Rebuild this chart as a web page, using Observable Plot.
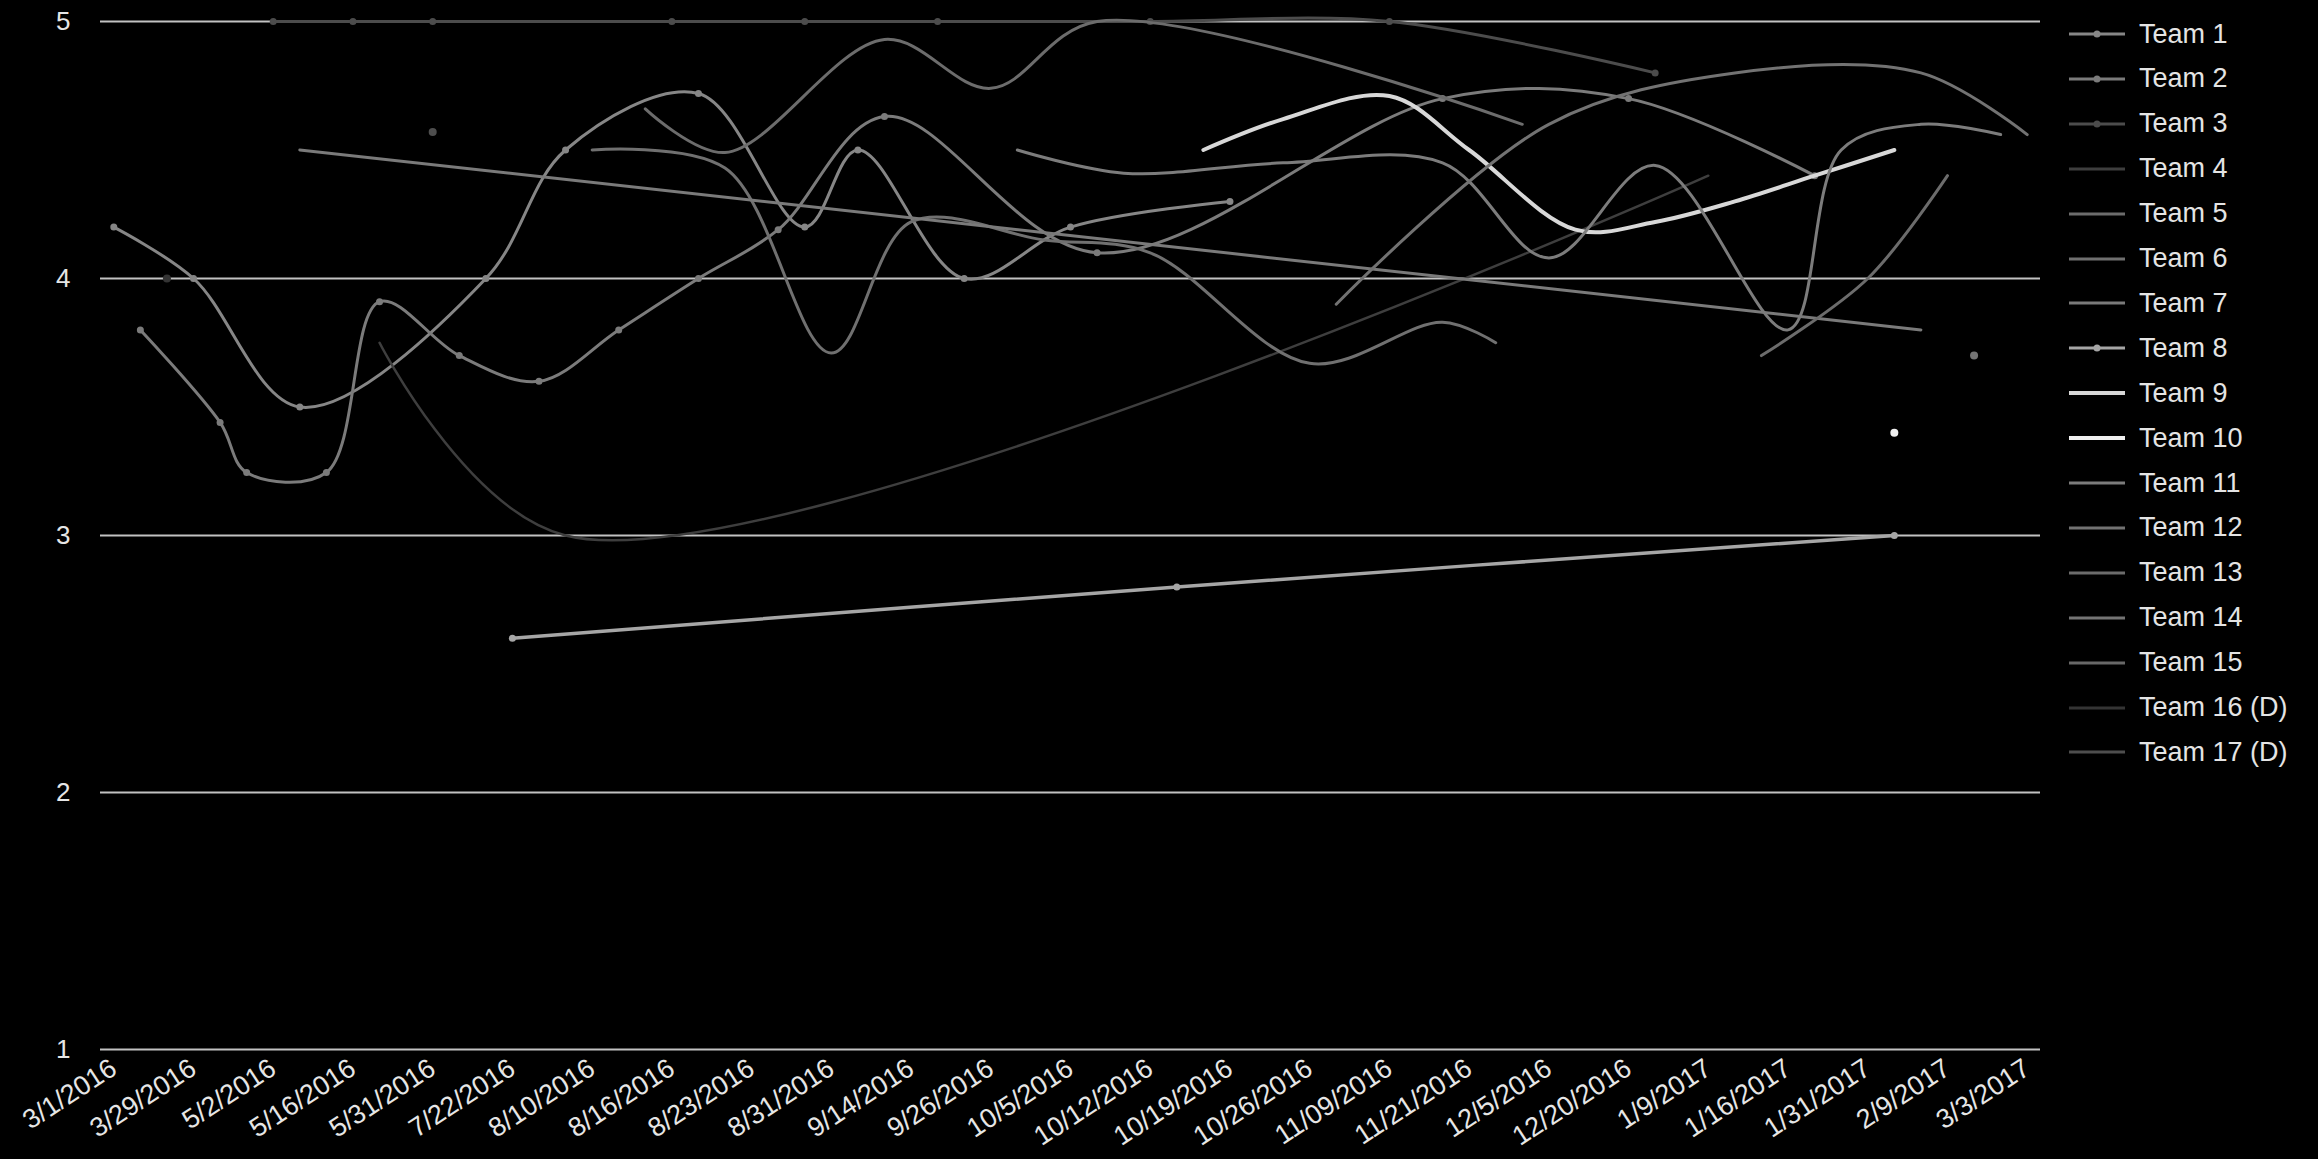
<!DOCTYPE html>
<html><head><meta charset="utf-8">
<script src="https://cdn.jsdelivr.net/npm/d3@7"></script>
<script src="https://cdn.jsdelivr.net/npm/@observablehq/plot@0.6"></script>
<style>
html,body{margin:0;padding:0;background:#000;}
body{width:2318px;height:1159px;overflow:hidden;position:relative;font-family:"Liberation Sans",Arial,sans-serif;}
#chart{position:absolute;left:0;top:0;}
#legend{position:absolute;left:2069px;top:0;width:249px;height:800px;}
.item{position:absolute;left:0;height:30px;display:flex;align-items:center;color:#e4e4e4;font-size:27px;white-space:nowrap;}
.item svg{margin-right:14px;}
</style></head><body>
<div id="chart"></div><div id="legend"></div>
<script>
// x-axis labels (every third category of 73 is labelled)
const dateLabels = ["3/1/2016","3/29/2016","5/2/2016","5/16/2016","5/31/2016","7/22/2016","8/10/2016","8/16/2016","8/23/2016","8/31/2016","9/14/2016","9/26/2016","10/5/2016","10/12/2016","10/19/2016","10/26/2016","11/09/2016","11/21/2016","12/5/2016","12/20/2016","1/9/2017","1/16/2017","1/31/2017","2/9/2017","3/3/2017"];
const categoryCount = 73;
const yTicks = [1, 2, 3, 4, 5];

const teamNames = ["Team 1","Team 2","Team 3","Team 4","Team 5","Team 6","Team 7","Team 8","Team 9","Team 10","Team 11","Team 12","Team 13","Team 14","Team 15","Team 16 (D)","Team 17 (D)"];
const teamColors = ["#868686","#7b7b7b","#4c4c4c","#3e3e3e","#6c6c6c","#707070","#7a7a7a","#a6a6a6","#d8d8d8","#f0f0f0","#7c7c7c","#727272","#6c6c6c","#747474","#686868","#343434","#4e4e4e"];
const teamMarkers = [true,true,true,false,false,false,false,true,false,false,false,false,false,false,false,false,false];
const teamWidths = [3,3,3,2.5,3,3,3,3.5,4,4,3,3,3,3,3,3,3];

// series values: [category index, rating]
const team1 = [[0,4.2],[3,4.0],[7,3.5],[14,4.0],[17,4.5],[22,4.72],[26,4.2],[28,4.5],[32,4.0],[36,4.2],[42,4.3]];
const team2 = [[1,3.8],[4,3.44],[5,3.245],[8,3.245],[10,3.91],[13,3.7],[16,3.6],[19,3.8],[22,4.0],[25,4.19],[29,4.63],[37,4.1],[50,4.7],[57,4.7],[64,4.4]];
const team3 = [[6,5],[9,5],[12,5],[21,5],[26,5],[31,5],[39,5],[48,5],[58,4.8]];
const team4 = [[10,3.75],[17,3.0],[60,4.4]];
const team5 = [[20,4.66],[23,4.49],[29,4.93],[33,4.74],[37,5.0],[53,4.6]];
const team6 = [[18,4.5],[23,4.43],[27,3.71],[30,4.22],[35,4.15],[39,4.1],[45,3.67],[50,3.83],[52,3.75]];
const team7 = [[7,4.5],[68,3.8]];
const team8 = [[15,2.6],[40,2.8],[67,3.0]];
const team9 = [[41,4.5],[44,4.62],[48,4.71],[51,4.5],[55,4.19],[58,4.22],[61,4.3],[64,4.4],[67,4.5]];
const team10 = [[67,3.4]];
const team11 = [[34,4.5],[38,4.41],[44,4.45],[50,4.45],[54,4.08],[58,4.44],[63,3.8],[65,4.5],[68,4.6],[71,4.56]];
const team12 = [[46,3.9],[54,4.6],[61,4.8],[68,4.8],[72,4.56]];
const team13 = [[62,3.7],[66,4.0],[69,4.4]];
const team14 = [[70,3.7]];
const team15 = [];
const team16 = [[2,4.0]];
const team17 = [[12,4.57]];
const teamValues = [team1,team2,team3,team4,team5,team6,team7,team8,team9,team10,team11,team12,team13,team14,team15,team16,team17];

const series = teamValues.map((pts, k) => pts.map(([i, v]) => ({team: teamNames[k], i, v})));

const marks = [Plot.ruleY(yTicks, {stroke: "#c2c2c2", strokeWidth: 2})];
series.forEach((rows, k) => {
  if (rows.length >= 2) {
    marks.push(Plot.line(rows, {x: "i", y: "v", stroke: teamColors[k], strokeWidth: teamWidths[k], curve: "catmull-rom"}));
  }
  if (teamMarkers[k] || rows.length === 1) {
    marks.push(Plot.dot(rows, {x: "i", y: "v", fill: teamColors[k], r: rows.length === 1 ? 4 : 3.5}));
  }
});
marks.push(Plot.axisY({ticks: yTicks, tickSize: 0, tickPadding: 30, tickFormat: d => String(d), fill: "#e6e6e6", label: null}));
marks.push(Plot.axisX({ticks: d3.range(0, categoryCount, 3), tickFormat: i => dateLabels[i / 3], tickRotate: -33, tickSize: 0, tickPadding: 16, fontSize: 27, fill: "#e6e6e6", label: null}));

const chart = Plot.plot({
  width: 2050,
  height: 1159,
  marginLeft: 100,
  marginRight: 10,
  marginTop: 21,
  marginBottom: 110,
  x: {type: "linear", domain: [-0.5, categoryCount - 0.5]},
  y: {domain: [1, 5]},
  style: {background: "#000", color: "#e6e6e6", fontSize: "26px", fontFamily: "'Liberation Sans', Arial, sans-serif"},
  marks
});
document.getElementById("chart").appendChild(chart);

const legend = document.getElementById("legend");
teamNames.forEach((name, k) => {
  const div = document.createElement("div");
  div.className = "item";
  div.style.top = (34 + 44.9 * k - 15) + "px";
  const c = teamColors[k];
  const w = k === 8 || k === 9 ? 4 : 3;
  div.innerHTML = `<svg width="56" height="30"><line x1="0" x2="56" y1="15" y2="15" stroke="${c}" stroke-width="${w}"/>${teamMarkers[k] ? `<circle cx="28" cy="15" r="3.5" fill="${c}"/>` : ""}</svg><span>${name}</span>`;
  legend.appendChild(div);
});
</script>
</body></html>
